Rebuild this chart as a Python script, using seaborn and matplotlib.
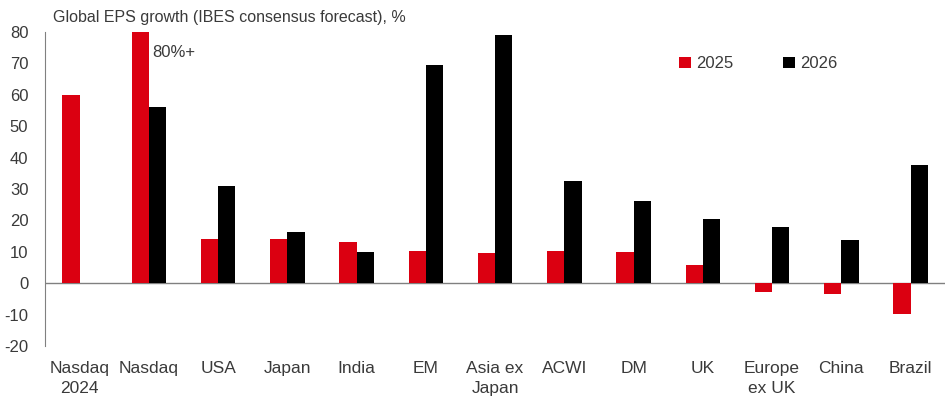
import pandas as pd
import numpy as np
import matplotlib
matplotlib.use("Agg")
import matplotlib.pyplot as plt
import seaborn as sns

categories = ["Nasdaq\n2024", "Nasdaq", "USA", "Japan", "India", "EM", "Asia ex\nJapan",
              "ACWI", "DM", "UK", "Europe\nex UK", "China", "Brazil"]
eps_2025 = [60, 80, 14, 14, 13, 10.2, 9.7, 10.1, 9.9, 5.7, -2.9, -3.5, -9.9]
eps_2026 = [np.nan, 56, 31, 16.4, 10, 69.6, 79, 32.7, 26.3, 20.3, 18, 13.7, 37.8]
years = ["2025", "2026"]

df = pd.DataFrame({
    "cat": categories * 2,
    "year": [years[0]] * len(categories) + [years[1]] * len(categories),
    "val": eps_2025 + eps_2026,
})

sns.set_style("white")
plt.rcParams["font.family"] = ["Liberation Sans", "DejaVu Sans"]
plt.rcParams["axes.unicode_minus"] = False
txt = "#3a3a3a"

fig = plt.figure(figsize=(9.49, 4.09), dpi=100)
ax = fig.add_axes([0.0474, 0.154, 0.9486, 0.7678])

sns.barplot(data=df, x="cat", y="val", hue="year", order=categories, hue_order=years,
            palette={"2025": "#DB0011", "2026": "#000000"}, width=0.5, ax=ax,
            edgecolor="none", errorbar=None, saturation=1)

ax.set_ylim(-20, 80)
ax.set_xlim(-0.5, 12.5)
ax.set_yticks(range(-20, 81, 10))
ax.set_xlabel("")
ax.set_ylabel("")
ax.axhline(0, color="#808080", lw=1, zorder=0)
for s in ["top", "right", "bottom"]:
    ax.spines[s].set_visible(False)
ax.spines["left"].set_color("#808080")
ax.spines["left"].set_linewidth(0.8)
ax.tick_params(axis="both", length=0, colors=txt)
ax.tick_params(axis="y", pad=12, labelsize=12)
ax.tick_params(axis="x", pad=11, labelsize=12.5)
for lab in ax.get_xticklabels():
    lab.set_linespacing(1.4)

ax.text(1.05, 73.6, "80%+", fontsize=12, color=txt, va="center", ha="left")
fig.text(0.056, 0.958, "Global EPS growth (IBES consensus forecast), %", fontsize=11.5,
         color=txt, va="center", ha="left")

ax.legend(loc="upper left", bbox_to_anchor=(0.688, 0.97), ncol=2, frameon=False,
          handlelength=0.7, handleheight=0.7, handletextpad=0.3, columnspacing=3.0,
          fontsize=12, labelcolor=txt)

fig.savefig("out.png", dpi=100)
